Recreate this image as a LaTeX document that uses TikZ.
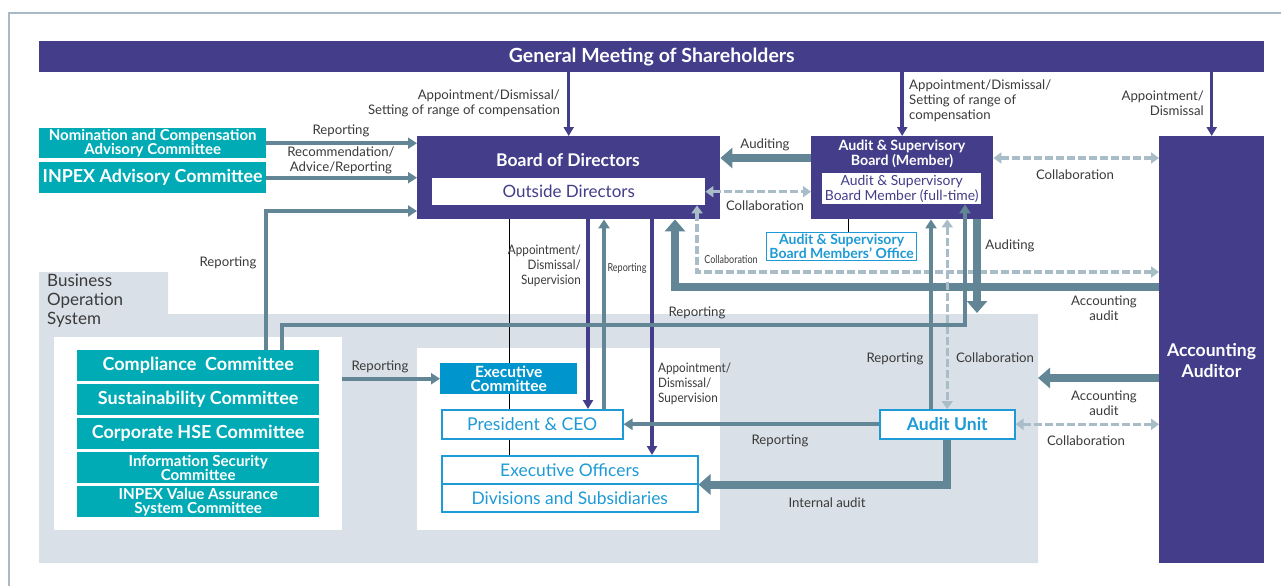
\documentclass[tikz,border=0pt]{standalone}
\usepackage{fontspec}
\setmainfont{Lato}
\newfontfamily\narrowfont[FakeStretch=0.82]{Lato}
\newfontfamily\apptfont[FakeStretch=0.9]{Lato}
\usetikzlibrary{arrows.meta}

\definecolor{gmpurple}{HTML}{433D8A}
\definecolor{cteal}{HTML}{00ABB5}
\definecolor{exblue}{HTML}{0095CC}
\definecolor{txblue}{HTML}{1E9AD6}
\definecolor{flow}{HTML}{628695}
\definecolor{collab}{HTML}{A9BDC9}
\definecolor{bosgray}{HTML}{D9E0E7}
\definecolor{framec}{HTML}{A8BAC5}
\definecolor{labelc}{HTML}{3A3A3A}

\newcommand{\fs}[2]{\fontsize{#1}{#2}\selectfont}

\tikzset{
  pbox/.style={fill=gmpurple, inner sep=0pt, anchor=north west, text=white, align=center},
  tbox/.style={fill=cteal, inner sep=0pt, anchor=north west, text=white, align=center, minimum width=242pt, minimum height=31pt},
  wbox/.style={draw=txblue, line width=1.5pt, fill=white, inner sep=0pt, anchor=north west, text=txblue, align=center},
  panel/.style={fill=white, inner sep=0pt, anchor=north west},
  lbl/.style={text=labelc, font=\fs{13.2}{15}, align=center, inner sep=0pt},
  nlbl/.style={text=labelc, font=\narrowfont\fs{11}{15}, inner sep=0pt},
  albl/.style={text=labelc, font=\apptfont\fs{13}{15}, inner sep=0pt},
  thinflow/.style={draw=flow, line width=4pt, -{Triangle[length=9pt,width=11pt]}},
  thickflow/.style={draw=flow, line width=8pt, -{Triangle[length=12pt,width=20pt]}},
  apparrow/.style={draw=gmpurple, line width=3.5pt, -{Triangle[length=9pt,width=10pt]}},
  collabarrow/.style={draw=collab, line width=3.5pt, dash pattern=on 8pt off 3pt,
    {Triangle[length=8pt,width=11pt]}-{Triangle[length=8pt,width=11pt]}},
}

\begin{document}
\begin{tikzpicture}[x=1pt,y=-1pt]
  \useasboundingbox (0,0) rectangle (1281,586);

  % frame
  \draw[framec, line width=1.2pt] (9,586) -- (9,13) -- (1281,13);

  % business operation system
  \fill[bosgray] (39,272) -- (168,272) -- (168,314) -- (1038,314) -- (1038,563) -- (39,563) -- cycle;
  \node[anchor=west, align=left, inner sep=0pt, text=labelc, font=\fs{17}{19}] (bostitle) at (47,301) {Business\\Operation\\System};
  \node[panel, minimum width=288pt, minimum height=193pt] (lpanel) at (54,337) {};
  \node[panel, minimum width=303pt, minimum height=182pt] (mpanel) at (417,348) {};

  % top level
  \node[pbox, minimum width=1225pt, minimum height=31pt, font=\bfseries\fs{19.5}{22}] (gm) at (39,41) {\raisebox{-1.5pt}{General Meeting of Shareholders}};
  \node[pbox, minimum width=303pt, minimum height=83pt] (bod) at (417,136) {};
  \node[text=white, font=\bfseries\fs{17.5}{20}] (bodt) at (568,160.5) {Board of Directors};
  \node[fill=white, inner sep=0pt, anchor=north west, minimum width=273pt, minimum height=27pt, text=gmpurple, font=\fs{17}{19}] (od) at (432,178) {Outside Directors};
  \node[pbox, minimum width=182pt, minimum height=83pt] (asb) at (811,136) {};
  \node[text=white, align=center, font=\bfseries\fs{14.2}{15}] (asbt) at (902,154) {Audit \& Supervisory\\Board (Member)};
  \node[fill=white, inner sep=0pt, anchor=north west, minimum width=159pt, minimum height=31pt, text=gmpurple, align=center, font=\fs{13.9}{14.5}] (asi) at (822,173) {Audit \& Supervisory\\Board Member (full-time)};
  \node[pbox, minimum width=105pt, minimum height=427pt] (aa) at (1159,136) {};
  \node[text=white, align=center, font=\bfseries\fs{17.6}{21}] (aat) at (1211.5,361) {Accounting\\Auditor};
  \node[wbox, line width=1.2pt, minimum width=150pt, minimum height=28pt, font=\bfseries\fs{14}{13}] (office) at (766,232) {Audit \& Supervisory\\Board Members' Office};

  % advisory committees
  \node[tbox, minimum width=227pt, minimum height=30pt, font=\bfseries\fs{15}{14.5}] (nom) at (39,128) {Nomination and Compensation\\Advisory Committee};
  \node[tbox, minimum width=227pt, font=\bfseries\fs{17.9}{18}] (iac) at (39,162) {INPEX Advisory Committee};

  % committees of business operation
  \node[tbox, font=\bfseries\fs{18}{18}] (comp) at (77,350) {Compliance\ \ Committee};
  \node[tbox, font=\bfseries\fs{18}{18}] (sust) at (77,384) {Sustainability Committee};
  \node[tbox, font=\bfseries\fs{18}{18}] (hse) at (77,418) {Corporate HSE Committee};
  \node[tbox, font=\bfseries\fs{15.2}{14}] (isc) at (77,452) {Information Security\\Committee};
  \node[tbox, font=\bfseries\fs{15.2}{14}] (vasc) at (77,486) {INPEX Value Assurance\\System Committee};

  % executive side
  \node[fill=exblue, inner sep=0pt, anchor=north west, minimum width=137pt, minimum height=31pt, text=white, align=center, font=\bfseries\fs{15.5}{14.5}] (exc) at (440,363) {Executive\\Committee};
  \node[wbox, minimum width=181pt, minimum height=29pt, font=\fs{17.6}{18}] (pres) at (441,409) {President \& CEO};
  \node[wbox, minimum width=256pt, minimum height=28pt, font=\fs{17.4}{18}] (eo) at (441,455) {Executive Officers};
  \node[wbox, minimum width=256pt, minimum height=28pt, font=\fs{17.4}{18}] (div) at (441,483) {Divisions and Subsidiaries};
  \node[wbox, minimum width=135pt, minimum height=29pt, font=\bfseries\fs{17.6}{18}] (au) at (879,409) {Audit Unit};

  % helper coordinates
  \coordinate (spine) at (509,0);
  \coordinate (audy) at (0,158);
  \coordinate (cbx) at (266,211);
  \coordinate (crx) at (282,325);
  \coordinate (cry) at (965,325);
  \coordinate (aay) at (0,287);
  \coordinate (aax) at (675,0);
  \coordinate (cox) at (697,272);
  \coordinate (appx) at (588,0);
  \coordinate (repx) at (604,0);
  \coordinate (eox) at (652,0);
  \coordinate (aurx) at (931,0);
  \coordinate (adtx) at (977,0);
  \coordinate (audend) at (977,313);
  \coordinate (offx) at (848,0);
  \coordinate (bosedge) at (1038,378);

  % line of command
  \draw[black, line width=0.8pt] (spine |- bod.south) -- (spine |- exc.north);
  \draw[black, line width=0.8pt] (spine |- exc.south) -- (spine |- pres.north);
  \draw[black, line width=0.8pt] (spine |- pres.south) -- (spine |- eo.north);

  % accounting audit
  \draw[thickflow] (aa.west |- aay) -| (aax |- bod.south);
  \draw[thickflow] (aa.west |- bosedge) -- (bosedge);

  % collaboration
  \draw[collabarrow] (od.east) -- (od.east -| asb.west);
  \draw[collabarrow] (asb.east |- audy) -- (aa.west |- audy);
  \draw[collabarrow] (cox |- od.south) -- (cox) -- (cox -| aa.west);
  \draw[collabarrow] (au.north |- asb.south) -- (au.north);
  \draw[collabarrow] (au.east) -- (au.east -| aa.west);

  % appointment
  \draw[apparrow] (bod.north |- gm.south) -- (bod.north);
  \draw[apparrow] (asb.north |- gm.south) -- (asb.north);
  \draw[apparrow] (aa.north |- gm.south) -- (aa.north);
  \draw[apparrow] (appx |- bod.south) -- (appx |- pres.north);
  \draw[apparrow] (eox |- bod.south) -- (eox |- eo.north);

  % reporting
  \draw[thinflow] (nom.east) -- (nom.east -| bod.west);
  \draw[thinflow] (iac.east) -- (iac.east -| bod.west);
  \draw[thinflow] (cbx |- comp.north) -- (cbx) -- (cbx -| bod.west);
  \draw[thinflow] (crx |- comp.north) -- (crx) -- (cry) -- (cry |- asi.south);
  \draw[thinflow] (exc.west -| lpanel.east) -- (exc.west);
  \draw[thinflow] (repx |- pres.north) -- (repx |- bod.south);
  \draw[thinflow] (au.west) -- (au.west -| pres.east);
  \draw[thinflow] (aurx |- au.north) -- (aurx |- asb.south);
  \draw[black, line width=0.8pt] (offx |- asb.south) -- (offx |- office.north);

  % auditing
  \draw[thickflow] (asb.west |- audy) -- (bod.east |- audy);
  \draw[thickflow] (adtx |- asb.south) -- (audend);
  \draw[thickflow] (au.south) |- (eo.south east);

  % labels
  \node[lbl, anchor=east, align=right] (l1) at (560,103.5) {Appointment/Dismissal/\\Setting of range of compensation};
  \node[lbl, anchor=west, align=left] (l2) at (909,101) {Appointment/Dismissal/\\Setting of range of\\compensation};
  \node[lbl, anchor=east, align=right] (l3) at (1204,103.5) {Appointment/\\Dismissal};
  \node[lbl] (l4) at (341,131) {Reporting};
  \node[lbl] (l5) at (341,160) {Recommendation/\\Advice/Reporting};
  \node[lbl] (l6) at (765,145) {Auditing};
  \node[lbl] (l7) at (765,206) {Collaboration};
  \node[lbl] (l8) at (1075,175) {Collaboration};
  \node[lbl] (l9) at (228,263) {Reporting};
  \node[lbl] (l10) at (380,367) {Reporting};
  \node[albl, anchor=east, align=right] (l11) at (581,266) {Appointment/\\Dismissal/\\Supervision};
  \node[nlbl] (l12) at (627,268) {Reporting};
  \node[lbl] (l13) at (697,313) {Reporting};
  \node[albl, anchor=west, align=left] (l14) at (658,384) {Appointment/\\Dismissal/\\Supervision};
  \node[nlbl] (l15) at (731,259) {Collaboration};
  \node[lbl] (l16) at (1010,246) {Auditing};
  \node[lbl] (l17) at (1104,308) {Accounting\\audit};
  \node[lbl] (l18) at (895,359) {Reporting};
  \node[lbl] (l19) at (995,358) {Collaboration};
  \node[lbl] (l20) at (1104,403) {Accounting\\audit};
  \node[lbl] (l21) at (780,441) {Reporting};
  \node[lbl] (l22) at (1086,441) {Collaboration};
  \node[lbl] (l23) at (827,503) {Internal audit};
\end{tikzpicture}
\end{document}
